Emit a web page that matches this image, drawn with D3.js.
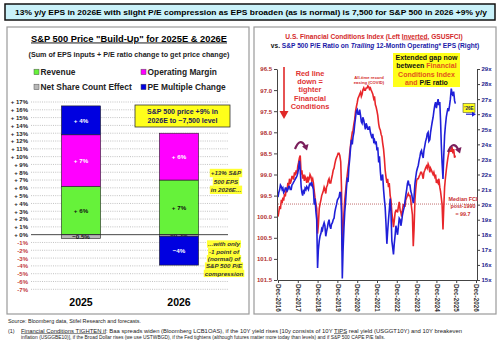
<!DOCTYPE html>
<html>
<head>
<meta charset="utf-8">
<script src="https://cdn.jsdelivr.net/npm/d3@7"></script>
<style>
  body { margin: 0; background: #fff; }
  svg { display: block; font-family: 'Liberation Sans', Arial, sans-serif; }
</style>
</head>
<body>
<svg width="500" height="341"></svg>
<script>
// price build-up inputs, % contribution
const buildYears = ['2025', '2026']
const revenue = [6.2, 7.0]
const opMargin = [6.6, 6.0]
const shareCount = [-0.5, -0.2]
const peChange = [3.7, -3.7]
const pctTicks = d3.range(-7, 18)

// readings on the 1st and 15th of each month, from Dec-2016
const firstMonth = new Date(2016, 11, 1)
const fci = [
  100.0, 99.9,
  99.75, 99.82, 99.6, 99.68, 99.55, 99.62, 99.45, 99.52, 99.35, 99.42, 99.2, 99.3,
  99.1, 99.22, 99.15, 99.05, 99.05, 99.12, 98.95, 99.02, 98.9, 98.98, 98.8, 98.72,
  98.6, 98.55, 99.0, 98.9, 99.1, 99.0, 99.15, 99.05, 99.1, 99.2, 99.05, 99.15,
  99.1, 99.0, 99.05, 99.15, 99.1, 99.2, 99.4, 99.55, 99.7, 99.8, 100.4, 100.2,
  99.8, 99.7, 99.6, 99.5, 99.45, 99.4, 99.3, 99.35, 99.45, 99.3, 99.25, 99.15,
  99.1, 99.2, 99.2, 99.1, 99.0, 98.9, 98.85, 98.75, 98.65, 98.6, 98.55, 98.5,
  98.5, 98.55, 98.7, 99.3, 100.8, 100.3, 99.9, 99.6, 99.4, 99.2, 99.0, 98.85,
  98.7, 98.5, 98.3, 98.15, 98.0, 97.95, 97.8, 97.7, 97.5, 97.4, 97.3, 97.2,
  97.15, 97.1, 97.05, 97.15, 97.1, 97.0, 96.95, 97.0, 97.0, 96.95, 96.95, 96.9,
  96.92, 96.98, 96.95, 97.0, 97.05, 97.1, 97.2, 97.15, 97.35, 97.4, 97.5, 97.6,
  97.8, 97.9, 97.95, 98.05, 98.1, 98.25, 98.4, 98.6, 98.9, 99.05, 99.2, 99.1,
  99.3, 99.2, 99.5, 99.6, 99.9, 100.05, 100.25, 100.1, 99.9, 99.85, 99.85, 99.9,
  99.75, 99.65, 99.85, 99.9, 100.0, 99.85, 99.7, 99.75, 99.75, 99.6, 99.55, 99.5,
  99.45, 99.5, 99.5, 99.6, 99.8, 99.95, 100.7, 100.3, 99.6, 99.35, 99.15, 99.1,
  99.1, 99.05, 99.0, 98.95, 98.95, 99.0, 99.1, 98.95, 98.9, 98.85, 98.8, 98.85,
  98.75, 98.8, 98.95, 98.85, 98.9, 98.95, 99.0, 98.95, 99.05, 99.0, 99.2, 99.15,
  99.2, 99.1, 99.3, 99.4, 99.55, 99.7, 100.3, 99.8, 99.3, 99.1, 98.9, 98.75,
  98.6, 98.5, 98.4, 98.45, 98.45, 98.35, 98.5, 98.4, 98.6, 98.55
]
const trailingPE = [
  20.5, 20.8,
  21.0, 21.3, 21.2, 21.0, 21.1, 20.8, 20.9, 21.1, 21.1, 20.9, 21.0, 21.2,
  21.2, 21.0, 21.0, 21.3, 21.4, 21.5, 21.6, 21.7, 21.8, 21.9, 22.1, 22.4,
  22.9, 22.3, 21.2, 20.8, 20.6, 20.9, 20.8, 21.1, 21.0, 21.2, 21.1, 21.0,
  21.3, 21.4, 21.3, 21.5, 21.2, 21.0, 20.0, 20.4, 19.5, 19.0, 15.8, 17.0,
  17.6, 17.9, 18.1, 18.4, 18.3, 18.6, 18.8, 18.6, 17.9, 18.2, 18.5, 18.8,
  19.0, 18.6, 18.4, 18.7, 18.8, 19.0, 19.1, 19.5, 19.8, 20.0, 20.3, 20.4,
  20.5, 20.8, 20.8, 19.5, 15.1, 17.0, 18.5, 19.5, 20.2, 21.0, 21.8, 21.5,
  22.5, 23.0, 23.8, 24.3, 24.0, 24.5, 24.8, 25.3, 25.8, 26.2, 26.3, 26.0,
  26.0, 26.3, 25.9, 25.5, 25.4, 25.8, 25.6, 25.3, 25.0, 25.4, 25.2, 25.0,
  25.0, 25.2, 24.8, 24.6, 24.4, 24.7, 24.2, 24.3, 24.0, 24.2, 23.6, 23.8,
  22.8, 23.2, 22.2, 21.6, 21.8, 22.0, 21.0, 20.4, 19.8, 18.8, 17.4, 18.2,
  19.0, 19.6, 20.4, 19.6, 17.6, 17.2, 16.7, 17.4, 18.0, 18.6, 18.3, 18.0,
  18.6, 19.1, 19.0, 18.6, 18.9, 19.3, 19.6, 19.8, 20.2, 20.6, 21.0, 21.4,
  21.6, 21.3, 21.3, 20.9, 20.7, 20.4, 20.1, 20.5, 21.4, 21.8, 22.2, 22.4,
  22.6, 22.9, 23.2, 23.5, 23.6, 23.3, 23.1, 23.6, 23.9, 24.2, 24.4, 24.7,
  24.8, 24.2, 24.3, 24.8, 25.2, 25.5, 25.8, 26.2, 26.6, 26.8, 26.4, 26.7,
  27.0, 26.6, 26.8, 25.6, 24.0, 22.8, 21.7, 23.2, 24.6, 25.2, 25.8, 26.1,
  26.4, 26.2, 26.6, 27.0, 27.7, 27.4, 27.2, 27.5, 26.9, 26.7
]
const fciTicks = d3.range(96.5, 101.51, 0.5)
const peTicks = d3.range(15, 30)
const yearTicks = d3.range(2016, 2027)
const fciMedian = 99.7

const svg = d3.select('svg')

// headline banner
svg.append('rect')
  .attr('x', 5).attr('y', 4).attr('width', 490).attr('height', 16)
  .attr('fill', '#c9f1f9').attr('stroke', '#111').attr('stroke-width', 1.5)
svg.append('text')
  .attr('x', 251).attr('y', 15).attr('text-anchor', 'middle')
  .attr('font-size', 7.6).attr('font-weight', 'bold')
  .attr('textLength', 472).attr('lengthAdjust', 'spacingAndGlyphs')
  .text('13% y/y EPS in 2026E with slight P/E compression as EPS broaden (as is normal) is 7,500 for S&P 500 in 2026 +9% y/y')

// two framed panels
svg.selectAll('rect.panel')
  .data([7, 254])
  .enter().append('rect')
  .attr('class', 'panel')
  .attr('x', d => d).attr('y', 27).attr('width', 242).attr('height', 287)
  .attr('fill', '#fff').attr('stroke', '#9a9a9a').attr('stroke-width', 1.2)

// ---------- left panel: stacked build-up ----------
svg.append('text')
  .attr('x', 129).attr('y', 41.5).attr('text-anchor', 'middle')
  .attr('font-size', 9).attr('font-weight', 'bold')
  .attr('text-decoration', 'underline')
  .attr('textLength', 196).attr('lengthAdjust', 'spacingAndGlyphs')
  .text('S&P 500 Price "Build-Up" for 2025E & 2026E')
svg.append('text')
  .attr('x', 129).attr('y', 56.5).attr('text-anchor', 'middle')
  .attr('font-size', 6.8).attr('font-weight', 'bold').attr('fill', '#222')
  .attr('textLength', 201).attr('lengthAdjust', 'spacingAndGlyphs')
  .text('(Sum of EPS inputs + P/E ratio change to get price change)')

const seriesKeys = ['revenue', 'opMargin', 'shareCount', 'peChange']
const seriesNames = ['Revenue', 'Operating Margin', 'Net Share Count Effect', 'PE Multiple Change']
const seriesColors = ['#66f23a', '#ff00ff', '#b8b8b8', '#0000e0']
const labelColors = ['#111', '#fff', '#111', '#fff']

const rows = buildYears.map((year, i) => ({
  year,
  revenue: revenue[i],
  opMargin: opMargin[i],
  shareCount: shareCount[i],
  peChange: peChange[i]
}))

const stacked = d3.stack()
  .keys(seriesKeys)
  .offset(d3.stackOffsetDiverging)(rows)

// legend, two columns
const legend = svg.selectAll('g.legend')
  .data(seriesNames)
  .enter().append('g')
  .attr('class', 'legend')
  .attr('transform', (d, i) => `translate(${[i % 2 ? 141 : 34, i < 2 ? 72 : 87]})`)
legend.append('rect')
  .attr('x', 0).attr('y', -2.8).attr('width', 5).attr('height', 5.5)
  .attr('fill', (d, i) => seriesColors[i]).attr('stroke', '#555').attr('stroke-width', 0.5)
legend.append('text')
  .attr('x', 6.5).attr('y', 3)
  .attr('font-size', 8.4).attr('font-weight', 'bold').attr('fill', '#222')
  .text(d => d)

// scales for the build-up
const xYear = d3.scaleBand()
  .domain(buildYears)
  .range([32, 228])
  .paddingInner(0.6)
  .paddingOuter(0.3)

const yPct = d3.scaleLinear()
  .domain([-7, 17])
  .range([289.3, 102])

// dotted gridlines
svg.selectAll('line.grid')
  .data(pctTicks.filter(d => d !== 0))
  .enter().append('line')
  .attr('class', 'grid')
  .attr('x1', 31).attr('x2', 228)
  .attr('y1', d => yPct(d)).attr('y2', d => yPct(d))
  .attr('stroke', '#9a9a9a').attr('stroke-width', 0.6)
  .attr('stroke-dasharray', '1,1.2')

const pctAxis = svg.append('g')
  .attr('transform', 'translate(29,0)')
  .call(d3.axisLeft(yPct)
    .tickValues(pctTicks)
    .tickSize(0)
    .tickPadding(1)
    .tickFormat(d => d >= 0 ? `+ ${d}%` : `${d}%`))
pctAxis.select('.domain').remove()
pctAxis.selectAll('text')
  .attr('font-size', 6).attr('font-weight', 'bold')
  .attr('fill', d => d < 0 ? '#c23a3a' : '#222')

// stacked segments
const layers = svg.selectAll('g.layer')
  .data(stacked)
  .enter().append('g')
  .attr('class', 'layer')

layers.selectAll('rect')
  .data(d => d)
  .enter().append('rect')
  .attr('x', d => xYear(d.data.year))
  .attr('width', xYear.bandwidth())
  .attr('y', d => yPct(Math.max(d[0], d[1])))
  .attr('height', d => Math.abs(yPct(d[0]) - yPct(d[1])))
  .attr('fill', function () { return seriesColors[d3.select(this.parentNode).datum().index] })
  .attr('stroke', '#222').attr('stroke-width', 0.6)

const segLabel = v => {
  const txt = Math.abs(v) < 1 ? d3.format('.1f')(v) : d3.format('.0f')(v)
  return v > 0 ? `+ ${txt}%` : `${txt}%`
}

layers.selectAll('text')
  .data(d => d.map(s => Object.assign(s, { key: d.key, index: d.index })))
  .enter().append('text')
  .attr('x', d => xYear(d.data.year) + xYear.bandwidth() / 2)
  .attr('y', d => yPct((d[0] + d[1]) / 2))
  .attr('dy', '0.35em')
  .attr('text-anchor', 'middle')
  .attr('font-size', 6.2).attr('font-weight', 'bold')
  .attr('fill', d => labelColors[d.index])
  .text(d => segLabel(d.data[d.key]))

// zero line
svg.append('line')
  .attr('x1', 31).attr('x2', 228)
  .attr('y1', yPct(0)).attr('y2', yPct(0))
  .attr('stroke', '#333').attr('stroke-width', 0.9)

// category labels
svg.selectAll('text.year')
  .data(buildYears)
  .enter().append('text')
  .attr('class', 'year')
  .attr('x', d => xYear(d) + xYear.bandwidth() / 2)
  .attr('y', 305.5)
  .attr('text-anchor', 'middle')
  .attr('font-size', 10.5).attr('font-weight', 'bold')
  .text(d => d)

// callout box
svg.append('rect')
  .attr('x', 135).attr('y', 105).attr('width', 95).attr('height', 22)
  .attr('fill', '#ffff1a').attr('stroke', '#333').attr('stroke-width', 0.8)
svg.selectAll('text.callout')
  .data(['S&P 500 price +9% in', '2026E to ~7,500 level'])
  .enter().append('text')
  .attr('class', 'callout')
  .attr('x', 182.5).attr('y', (d, i) => 114 + i * 9.3)
  .attr('text-anchor', 'middle')
  .attr('font-size', 7).attr('font-weight', 'bold').attr('fill', '#1c1c5a')
  .text(d => d)

// highlighted side notes
const highlight = (lines, cx, y0, step) => {
  lines.forEach((line, i) => {
    const g = svg.append('g')
    const t = g.append('text')
      .attr('x', cx).attr('y', y0 + i * step)
      .attr('dy', '0.35em')
      .attr('text-anchor', 'middle')
      .attr('font-size', 6.2).attr('font-weight', 'bold').attr('font-style', 'italic')
      .attr('fill', '#333')
      .text(line)
    const w = t.node().getComputedTextLength()
    g.insert('rect', 'text')
      .attr('x', cx - w / 2 - 1).attr('y', y0 + i * step - step / 2)
      .attr('width', w + 2).attr('height', step)
      .attr('fill', '#ffff33')
  })
}
highlight(['+13% S&P', '500 EPS', 'in 2026E...'], 226, 173, 8.4)
highlight(['...with only', '-1 point of', '(normal) of', 'S&P 500 P/E', 'compression'], 224, 244, 7.35)

// ---------- right panel: FCI vs trailing P/E ----------
const title1 = svg.append('text')
  .attr('x', 374).attr('y', 38.5).attr('text-anchor', 'middle')
  .attr('font-size', 6.6).attr('font-weight', 'bold').attr('fill', '#d42a2a')
title1.append('tspan').text('U.S. Financial Conditions Index (Left ')
title1.append('tspan').attr('text-decoration', 'underline').text('Inverted')
title1.append('tspan').text(', GSUSFCI)')

const title2 = svg.append('text')
  .attr('x', 375).attr('y', 47.8).attr('text-anchor', 'middle')
  .attr('font-size', 6.6).attr('font-weight', 'bold').attr('fill', '#1a1aa8')
title2.append('tspan').attr('fill', '#111').text('vs. ')
title2.append('tspan').text('S&P 500 P/E Ratio on ')
title2.append('tspan').attr('font-style', 'italic').text('Trailing')
title2.append('tspan').text(' 12-Month Operating* EPS (Right)')

const xTime = d3.scaleTime()
  .domain([new Date(2016, 11, 1), new Date(2026, 11, 1)])
  .range([278, 476])

const yFci = d3.scaleLinear()
  .domain([96.5, 101.5])
  .range([69, 280])

const yPE = d3.scaleLinear()
  .domain([15, 29])
  .range([280, 69])

// two readings per month: the 1st and the 15th
const dateAt = i => d3.timeDay.offset(d3.timeMonth.offset(firstMonth, Math.floor(i / 2)), (i % 2) * 14)

// median FCI reference
svg.append('line')
  .attr('x1', 278).attr('x2', 476)
  .attr('y1', yFci(fciMedian)).attr('y2', yFci(fciMedian))
  .attr('stroke', '#a83232').attr('stroke-width', 0.7)
  .attr('stroke-dasharray', '1,1')

const fciLine = d3.line()
  .x((d, i) => xTime(dateAt(i)))
  .y(d => yFci(d))

const peLine = d3.line()
  .x((d, i) => xTime(dateAt(i)))
  .y(d => yPE(d))

svg.append('path')
  .datum(fci)
  .attr('d', fciLine)
  .attr('fill', 'none').attr('stroke', '#e8262a').attr('stroke-width', 1.6)

svg.append('path')
  .datum(trailingPE)
  .attr('d', peLine)
  .attr('fill', 'none').attr('stroke', '#1f1fd8').attr('stroke-width', 1.6)

// axes
const fciAxis = svg.append('g')
  .attr('transform', 'translate(277,0)')
  .call(d3.axisLeft(yFci)
    .tickValues(fciTicks)
    .tickFormat(d3.format('.1f'))
    .tickSize(3).tickSizeOuter(0).tickPadding(2))
fciAxis.selectAll('text')
  .attr('font-size', 6).attr('font-weight', 'bold').attr('fill', '#b03030')

const peAxis = svg.append('g')
  .attr('transform', 'translate(477,0)')
  .call(d3.axisRight(yPE)
    .tickValues(peTicks)
    .tickFormat(d => `${d}x`)
    .tickSize(3).tickSizeOuter(0).tickPadding(1.5))
peAxis.selectAll('text')
  .attr('font-size', 6).attr('font-weight', 'bold').attr('fill', '#1c1c8c')

const timeAxis = svg.append('g')
  .attr('transform', 'translate(0,280)')
  .call(d3.axisBottom(xTime)
    .tickValues(yearTicks.map(y => new Date(y, 11, 1)))
    .tickFormat(d3.timeFormat('%b-%Y'))
    .tickSize(3).tickSizeOuter(0))
timeAxis.selectAll('text')
  .attr('transform', 'rotate(90)')
  .attr('x', 4).attr('y', 0).attr('dy', '0.35em')
  .attr('text-anchor', 'start')
  .attr('font-size', 6.3).attr('font-weight', 'bold').attr('fill', '#333')

svg.selectAll('.domain, .tick line').attr('stroke', '#444')

// annotations
svg.selectAll('text.redNote')
  .data(['Red line', 'down =', 'tighter', 'Financial', 'Conditions'])
  .enter().append('text')
  .attr('class', 'redNote')
  .attr('x', 310).attr('y', (d, i) => 73.5 + i * 8.2)
  .attr('dy', '0.35em')
  .attr('text-anchor', 'middle')
  .attr('font-size', 7.4).attr('font-weight', 'bold').attr('fill', '#e03434')
  .text(d => d)

svg.append('line')
  .attr('x1', 284).attr('x2', 284).attr('y1', 67).attr('y2', 112)
  .attr('stroke', '#e02828').attr('stroke-width', 1.6)
svg.append('path')
  .attr('d', 'M279.5,111 L288.5,111 L284,119 Z')
  .attr('fill', '#e02828')

svg.selectAll('text.covid')
  .data(['All-time record', 'easing (COVID)'])
  .enter().append('text')
  .attr('class', 'covid')
  .attr('x', 369).attr('y', (d, i) => 79 + i * 5)
  .attr('text-anchor', 'middle')
  .attr('font-size', 4.2).attr('font-weight', 'bold').attr('fill', '#d42a2a')
  .text(d => d)

// gap callout
svg.append('rect')
  .attr('x', 393).attr('y', 53).attr('width', 67).attr('height', 34)
  .attr('fill', '#ffff1a')
const gapLines = [
  [['Extended gap now', '#111']],
  [['between ', '#111'], ['Financial', '#e2531c']],
  [['Conditions Index', '#e2531c']],
  [['and ', '#e2531c'], ['P/E ratio', '#111']]
]
gapLines.forEach((parts, i) => {
  const t = svg.append('text')
    .attr('x', 426.5).attr('y', 57.5 + i * 8.3)
    .attr('dy', '0.35em')
    .attr('text-anchor', 'middle')
    .attr('font-size', 7).attr('font-weight', 'bold')
  parts.forEach(p => t.append('tspan').attr('fill', p[1]).text(p[0]))
})

// 2026E marker
svg.append('rect')
  .attr('x', 463).attr('y', 103.5).attr('width', 12).attr('height', 9)
  .attr('fill', '#ffff1a').attr('stroke', '#333').attr('stroke-width', 0.5)
svg.append('text')
  .attr('x', 469).attr('y', 108).attr('dy', '0.35em')
  .attr('text-anchor', 'middle')
  .attr('font-size', 4.6).attr('font-weight', 'bold').attr('fill', '#1c1c5a')
  .text("'26E")
svg.append('line')
  .attr('x1', 466).attr('x2', 473).attr('y1', yPE(26)).attr('y2', yPE(26))
  .attr('stroke', '#1f1fd8').attr('stroke-width', 1.2)
svg.append('path')
  .attr('d', `M472,${yPE(26) - 2.5} L476,${yPE(26)} L472,${yPE(26) + 2.5} Z`)
  .attr('fill', '#1f1fd8')

// turning-point arrows
const curl = (x, y) => {
  svg.append('path')
    .attr('d', `M${x - 5},${y + 5} Q${x},${y - 7} ${x + 5},${y + 2}`)
    .attr('fill', 'none').attr('stroke', '#7a1f5c').attr('stroke-width', 2.2)
  svg.append('path')
    .attr('d', `M${x + 2},${y + 2.5} L${x + 8.5},${y} L${x + 7},${y + 6.5} Z`)
    .attr('fill', '#7a1f5c')
}
curl(300, 144)
curl(453, 147)

svg.selectAll('text.median')
  .data(['Median FCI', 'post-1990', `= ${fciMedian}`])
  .enter().append('text')
  .attr('class', 'median')
  .attr('x', 463).attr('y', (d, i) => 199 + i * 7.5)
  .attr('dy', '0.35em')
  .attr('text-anchor', 'middle')
  .attr('font-size', 5.4).attr('font-weight', 'bold').attr('fill', '#c83030')
  .text(d => d)

// footnotes
svg.append('text')
  .attr('x', 8).attr('y', 323)
  .attr('font-size', 5.4).attr('fill', '#222')
  .text('Source: Bloomberg data, Stifel Research and forecasts.')
svg.append('text')
  .attr('x', 8).attr('y', 332.5)
  .attr('font-size', 5.4).attr('fill', '#222')
  .text('(1)')
const note1 = svg.append('text')
  .attr('x', 21).attr('y', 332.5)
  .attr('font-size', 5.4).attr('fill', '#222')
  .attr('textLength', 441).attr('lengthAdjust', 'spacingAndGlyphs')
note1.append('tspan').attr('text-decoration', 'underline').text('Financial Conditions TIGHTEN if')
note1.append('tspan').text(': Baa spreads widen (Bloomberg LCB1OAS), if the 10Y yield rises [10y consists of 10Y ')
note1.append('tspan').attr('text-decoration', 'underline').text('TIPS')
note1.append('tspan').text(' real yield (USGGT10Y) and 10Y breakeven')
svg.append('text')
  .attr('x', 21).attr('y', 338.5)
  .attr('font-size', 5.4).attr('fill', '#222')
  .attr('textLength', 364).attr('lengthAdjust', 'spacingAndGlyphs')
  .text('inflation (USGGBE10)], if the Broad Dollar rises (we use USTWBGD), if the Fed tightens (although futures matter more today than levels) and if S&P 500 CAPE P/E falls.')
</script>
</body>
</html>
